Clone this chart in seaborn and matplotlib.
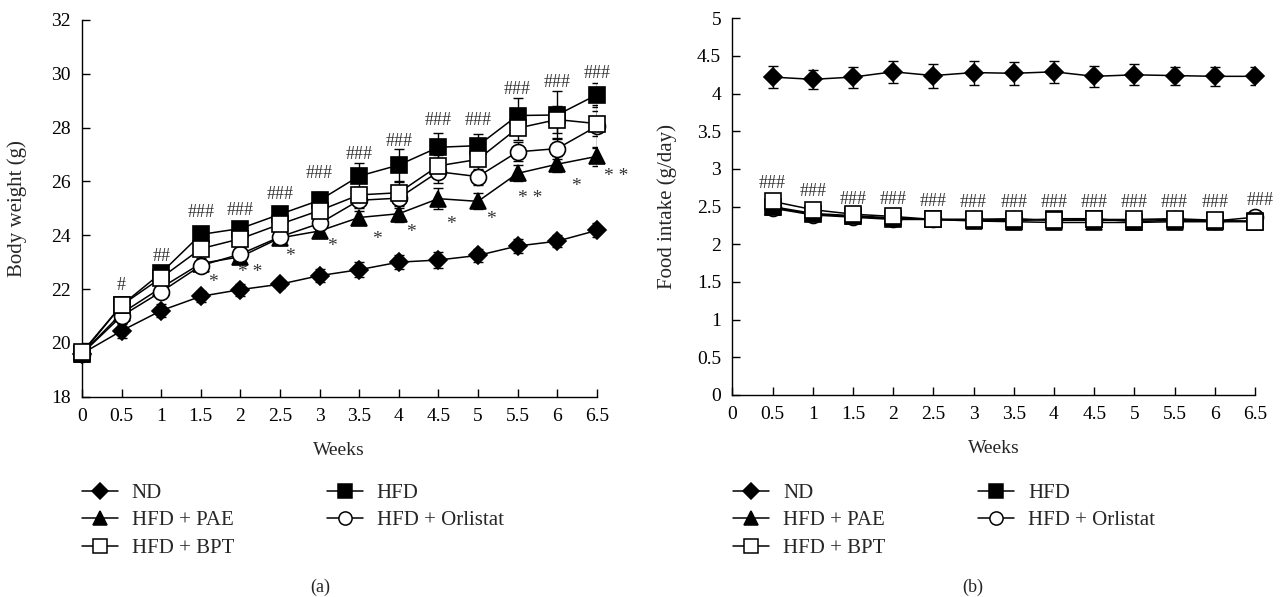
import numpy as np
import pandas as pd
import matplotlib
matplotlib.use("Agg")
import matplotlib.pyplot as plt
import seaborn as sns
from matplotlib.lines import Line2D

# ---------------- data ----------------
weeks_bw = [0, 0.5, 1, 1.5, 2, 2.5, 3, 3.5, 4, 4.5, 5, 5.5, 6, 6.5]
weeks_fi = [0.5, 1, 1.5, 2, 2.5, 3, 3.5, 4, 4.5, 5, 5.5, 6, 6.5]
tick_weeks = [0, 0.5, 1, 1.5, 2, 2.5, 3, 3.5, 4, 4.5, 5, 5.5, 6, 6.5]

# Body weight (g), mean
bw_nd = [19.6, 20.45, 21.2, 21.73, 21.98, 22.18, 22.5, 22.72, 23.0, 23.08, 23.25, 23.6, 23.78, 24.18]
bw_hfd = [19.6, 21.4, 22.6, 24.03, 24.25, 24.78, 25.3, 26.2, 26.61, 27.27, 27.33, 28.45, 28.47, 29.22]
bw_pae = [19.6, 21.1, 22.05, 22.95, 23.2, 23.9, 24.16, 24.66, 24.8, 25.36, 25.26, 26.3, 26.64, 26.93]
bw_orl = [19.6, 21.0, 21.9, 22.87, 23.3, 23.94, 24.44, 25.3, 25.38, 26.36, 26.18, 27.1, 27.22, 28.05]
bw_bpt = [19.65, 21.4, 22.42, 23.5, 23.87, 24.41, 24.92, 25.5, 25.58, 26.58, 26.82, 27.98, 28.3, 28.15]
# Body weight SEM
bw_nd_sem = [0.15, 0.28, 0.25, 0.2, 0.22, 0.15, 0.25, 0.27, 0.25, 0.28, 0.25, 0.25, 0.22, 0.26]
bw_hfd_sem = [0.1, 0.3, 0.15, 0.15, 0.15, 0.25, 0.3, 0.47, 0.58, 0.52, 0.45, 0.65, 0.9, 0.44]
bw_pae_sem = [0.1, 0.3, 0.25, 0.2, 0.2, 0.2, 0.2, 0.25, 0.3, 0.4, 0.3, 0.3, 0.3, 0.35]
bw_orl_sem = [0.1, 0.3, 0.2, 0.2, 0.2, 0.2, 0.2, 0.3, 0.35, 0.4, 0.3, 0.35, 0.4, 0.8]
bw_bpt_sem = [0.1, 0.3, 0.2, 0.2, 0.2, 0.2, 0.25, 0.3, 0.4, 0.4, 0.4, 0.45, 0.5, 0.45]

# Food intake (g/day), mean
fi_nd = [4.22, 4.19, 4.22, 4.29, 4.24, 4.28, 4.27, 4.29, 4.23, 4.25, 4.24, 4.23, 4.23]
fi_hfd = [2.49, 2.40, 2.37, 2.34, 2.33, 2.32, 2.31, 2.34, 2.34, 2.30, 2.32, 2.31, 2.31]
fi_pae = [2.50, 2.41, 2.38, 2.35, 2.33, 2.31, 2.30, 2.29, 2.29, 2.29, 2.30, 2.30, 2.30]
fi_orl = [2.48, 2.39, 2.36, 2.33, 2.33, 2.33, 2.33, 2.32, 2.32, 2.32, 2.33, 2.31, 2.36]
fi_bpt = [2.57, 2.46, 2.40, 2.37, 2.33, 2.33, 2.34, 2.32, 2.33, 2.33, 2.34, 2.32, 2.30]
fi_nd_sem = [0.15, 0.13, 0.14, 0.15, 0.16, 0.16, 0.15, 0.15, 0.14, 0.14, 0.12, 0.13, 0.12]
fi_other_sem = [0.03] * 13

groups = ["ND", "HFD", "HFD + PAE", "HFD + Orlistat", "HFD + BPT"]

# significance annotations (text, week, y)
hash_a_text = ["#", "##", "###", "###", "###", "###", "###", "###", "###", "###", "###", "###", "###"]
hash_a_x = [0.5, 1, 1.5, 2, 2.5, 3, 3.5, 4, 4.5, 5, 5.5, 6, 6.5]
hash_a_y = [22.15, 23.2, 24.85, 24.92, 25.5, 26.3, 27.0, 27.5, 28.28, 28.28, 29.4, 29.67, 30.02]
star_a_text = ["*", "* *", "*", "*", "*", "*", "*", "*", "* *", "*", "* *"]
star_a_x = [1.65, 2.12, 2.63, 3.16, 3.73, 4.16, 4.66, 5.16, 5.66, 6.24, 6.75]
star_a_y = [22.25, 22.6, 23.2, 23.6, 23.85, 24.1, 24.4, 24.58, 25.35, 25.83, 26.2]
hash_b_x = [0.5, 1, 1.5, 2, 2.5, 3, 3.5, 4, 4.5, 5, 5.5, 6, 6.57]
hash_b_y = [2.81, 2.70, 2.60, 2.59, 2.57, 2.56, 2.56, 2.56, 2.56, 2.56, 2.56, 2.56, 2.58]

# ---------------- tidy frames ----------------
def long_frame(weeks, series, sems):
    rows = []
    for g, vals, ss in zip(groups, series, sems):
        for w, v, s in zip(weeks, vals, ss):
            rows.append({"week": w, "value": v, "sem": s, "group": g})
    return pd.DataFrame(rows)

df_bw = long_frame(weeks_bw, [bw_nd, bw_hfd, bw_pae, bw_orl, bw_bpt],
                   [bw_nd_sem, bw_hfd_sem, bw_pae_sem, bw_orl_sem, bw_bpt_sem])
df_fi = long_frame(weeks_fi, [fi_nd, fi_hfd, fi_pae, fi_orl, fi_bpt],
                   [fi_nd_sem, fi_other_sem, fi_other_sem, fi_other_sem, fi_other_sem])

# ---------------- style ----------------
sns.set_theme(style="ticks")
plt.rcParams["font.family"] = ["Liberation Serif", "DejaVu Serif"]
plt.rcParams["axes.linewidth"] = 1.0
plt.rcParams["axes.edgecolor"] = "black"

styles = {
    "ND": dict(marker="D", mfc="black", ms=9, lms=8),
    "HFD": dict(marker="s", mfc="black", ms=11, lms=9.5),
    "HFD + PAE": dict(marker="^", mfc="black", ms=11.5, lms=10),
    "HFD + Orlistat": dict(marker="o", mfc="white", ms=11.5, lms=9.5),
    "HFD + BPT": dict(marker="s", mfc="white", ms=11, lms=9.5),
}
draw_order = ["ND", "HFD + PAE", "HFD + Orlistat", "HFD", "HFD + BPT"]

fig = plt.figure(figsize=(12.83, 5.97), dpi=100)
ax1 = fig.add_axes([0.0639, 0.3355, 0.4012, 0.6310])
ax2 = fig.add_axes([0.5708, 0.3384, 0.4074, 0.6309])


def draw(ax, df):
    for g in draw_order:
        sub = df[df["group"] == g]
        ax.errorbar(sub["week"], sub["value"], yerr=sub["sem"], fmt="none",
                    ecolor="black", elinewidth=1.0, capsize=3.5, capthick=1.0,
                    zorder=2)
    for i, g in enumerate(draw_order):
        sub = df[df["group"] == g]
        st = styles[g]
        sns.lineplot(data=sub, x="week", y="value", ax=ax, color="black",
                     marker=st["marker"], markersize=st["ms"],
                     markerfacecolor=st["mfc"], markeredgecolor="black",
                     markeredgewidth=1.2, linewidth=1.1, errorbar=None,
                     legend=False, zorder=3 + i, clip_on=False)


draw(ax1, df_bw)
draw(ax2, df_fi)

tick_labels = [f"{v:g}" for v in tick_weeks]
for ax in (ax1, ax2):
    sns.despine(ax=ax)
    ax.set_xlim(0, 6.5)
    ax.set_xticks(tick_weeks)
    ax.set_xticklabels(tick_labels)
    ax.tick_params(direction="in", length=6, width=1.0, labelsize=14, pad=8,
                   colors="black")
    ax.set_xlabel("Weeks", fontsize=14)
    ax.xaxis.label.set_va("center")
    ax.xaxis.set_label_coords(0.5, -0.1415)

ax1.set_ylim(18, 32)
ax1.set_yticks(np.arange(18, 32.1, 2))
ax1.set_yticklabels([f"{v:g}" for v in np.arange(18, 32.1, 2)])
ax1.set_ylabel("Body weight (g)", fontsize=15)
ax1.yaxis.label.set_va("center")
ax1.yaxis.set_label_coords(-0.126, 0.5)

ax2.set_ylim(0, 5)
ax2.set_yticks(np.arange(0, 5.01, 0.5))
ax2.set_yticklabels([f"{v:g}" for v in np.arange(0, 5.01, 0.5)])
ax2.set_ylabel("Food intake (g/day)", fontsize=15)
ax2.yaxis.label.set_va("center")
ax2.yaxis.set_label_coords(-0.125, 0.5)

# annotations
for t, x, y in zip(hash_a_text, hash_a_x, hash_a_y):
    ax1.text(x, y, t, ha="center", va="center", fontsize=13, color="#333333")
for t, x, y in zip(star_a_text, star_a_x, star_a_y):
    ax1.text(x, y, t, ha="center", va="center", fontsize=14, color="#333333")
for x, y in zip(hash_b_x, hash_b_y):
    ax2.text(x, y, "###", ha="center", va="center", fontsize=13, color="#333333")

# legends
def handle(g):
    st = styles[g]
    return Line2D([], [], color="black", lw=1.1, marker=st["marker"],
                  markersize=st["lms"], markerfacecolor=st["mfc"],
                  markeredgecolor="black", markeredgewidth=1.1)

col1 = ["ND", "HFD + PAE", "HFD + BPT"]
col2 = ["HFD", "HFD + Orlistat"]
leg_kw = dict(loc="upper left", frameon=False, fontsize=15, handlelength=1.75,
              handletextpad=0.65, labelspacing=0.38, borderpad=0,
              borderaxespad=0, bbox_transform=fig.transFigure)
for ax, x1, x2 in ((ax1, 0.0637, 0.2546), (ax2, 0.5713, 0.7623)):
    l1 = ax.legend([handle(g) for g in col1], col1, bbox_to_anchor=(x1, 0.1905), **leg_kw)
    ax.add_artist(l1)
    ax.legend([handle(g) for g in col2], col2, bbox_to_anchor=(x2, 0.1905), **leg_kw)

fig.text(320 / 1283, 1 - 587 / 597, "(a)", ha="center", va="center", fontsize=13)
fig.text(973 / 1283, 1 - 587 / 597, "(b)", ha="center", va="center", fontsize=13)

fig.savefig("out.png", dpi=100)
